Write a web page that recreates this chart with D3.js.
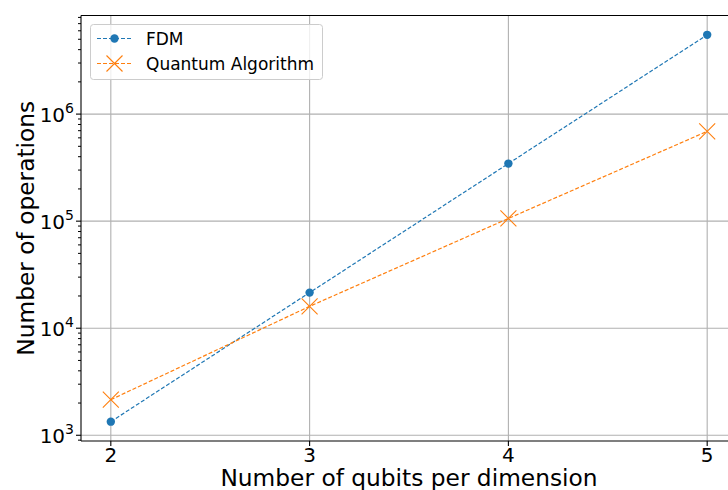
<!DOCTYPE html>
<html lang="en">
<head>
<meta charset="utf-8">
<title>Number of operations</title>
<script src="https://cdn.jsdelivr.net/npm/d3@7"></script>
<style>
  body { margin: 0; background: #fff; }
  svg { display: block; font-family: "DejaVu Sans", sans-serif; }
  .grid line { stroke: #b0b0b0; stroke-width: 1.1; }
  .tick-lab { font-size: 20px; fill: #000; }
</style>
</head>
<body>
<svg id="chart" width="728" height="490"></svg>
<script>
// data
var qubits = [2, 3, 4, 5];
var fdmOps = [1340, 21500, 345000, 5500000];
var quantumOps = [2150, 16000, 106000, 690000];
var xTicks = [2, 3, 4, 5];
var yTicks = [1e3, 1e4, 1e5, 1e6];
var seriesNames = ["FDM", "Quantum Algorithm"];
var seriesColors = ["#1f77b4", "#ff7f0e"];

var W = 728, H = 490;
var pLeft = 81, pRight = 737, pTop = 15.5, pBottom = 441;

var svg = d3.select("#chart");

// matplotlib style 5% margins
var xs = d3.extent(qubits), xpad = (xs[1] - xs[0]) * 0.05;
var x = d3.scaleLinear().domain([xs[0] - xpad, xs[1] + xpad]).range([pLeft, pRight]);

var allY = fdmOps.concat(quantumOps);
var lo = Math.log10(d3.min(allY)), hi = Math.log10(d3.max(allY));
var ypad = (hi - lo) * 0.05;
var y = d3.scaleLog().domain([Math.pow(10, lo - ypad), Math.pow(10, hi + ypad)]).range([pBottom, pTop]);

// grid
var grid = svg.append("g").attr("class", "grid");
grid.selectAll(".gx").data(xTicks).enter().append("line")
  .attr("x1", function(d) { return x(d); }).attr("x2", function(d) { return x(d); })
  .attr("y1", pTop).attr("y2", pBottom);
grid.selectAll(".gy").data(yTicks).enter().append("line")
  .attr("x1", pLeft).attr("x2", pRight)
  .attr("y1", function(d) { return y(d); }).attr("y2", function(d) { return y(d); });

// minor ticks on y
var minors = [];
for (var e = 2; e <= 6; e++) {
  for (var m = 2; m <= 9; m++) {
    var v = m * Math.pow(10, e);
    if (v >= y.domain()[0] && v <= y.domain()[1]) minors.push(v);
  }
}
svg.append("g").selectAll("line").data(minors).enter().append("line")
  .attr("x1", pLeft - 3).attr("x2", pLeft)
  .attr("y1", function(d) { return y(d); }).attr("y2", function(d) { return y(d); })
  .attr("stroke", "#000").attr("stroke-width", 1);

// major ticks
svg.append("g").selectAll("line").data(yTicks).enter().append("line")
  .attr("x1", pLeft - 5).attr("x2", pLeft)
  .attr("y1", function(d) { return y(d); }).attr("y2", function(d) { return y(d); })
  .attr("stroke", "#000").attr("stroke-width", 1.1);
svg.append("g").selectAll("line").data(xTicks).enter().append("line")
  .attr("x1", function(d) { return x(d); }).attr("x2", function(d) { return x(d); })
  .attr("y1", pBottom).attr("y2", pBottom + 5)
  .attr("stroke", "#000").attr("stroke-width", 1.1);

// tick labels
svg.append("g").selectAll("text").data(xTicks).enter().append("text")
  .attr("class", "tick-lab")
  .attr("x", function(d) { return x(d); }).attr("y", 462)
  .attr("text-anchor", "middle")
  .text(function(d) { return d; });

var yl = svg.append("g").selectAll("text").data(yTicks).enter().append("text")
  .attr("class", "tick-lab")
  .attr("x", 74).attr("y", function(d) { return y(d) + 7.5; })
  .attr("text-anchor", "end");
yl.append("tspan").text("10");
yl.append("tspan").attr("dy", -9).attr("font-size", 14)
  .text(function(d) { return Math.round(Math.log10(d)); });

// spines
svg.append("line").attr("x1", pLeft).attr("x2", pLeft).attr("y1", pTop).attr("y2", pBottom)
  .attr("stroke", "#000").attr("stroke-width", 1.1);
svg.append("line").attr("x1", pLeft).attr("x2", pRight).attr("y1", pBottom).attr("y2", pBottom)
  .attr("stroke", "#000").attr("stroke-width", 1.1);
svg.append("line").attr("x1", pLeft).attr("x2", pRight).attr("y1", pTop).attr("y2", pTop)
  .attr("stroke", "#000").attr("stroke-width", 1.1);

// series
var line = d3.line().x(function(d) { return x(d[0]); }).y(function(d) { return y(d[1]); });
var fdmPts = d3.zip(qubits, fdmOps);
var qPts = d3.zip(qubits, quantumOps);

function crossPath(cx, cy, r) {
  return "M" + (cx - r) + "," + (cy - r) + "L" + (cx + r) + "," + (cy + r) +
         "M" + (cx - r) + "," + (cy + r) + "L" + (cx + r) + "," + (cy - r);
}

svg.append("path").datum(fdmPts).attr("d", line)
  .attr("fill", "none").attr("stroke", seriesColors[0]).attr("stroke-width", 1.2)
  .attr("stroke-dasharray", "4,2");
svg.append("g").selectAll("circle").data(fdmPts).enter().append("circle")
  .attr("cx", function(d) { return x(d[0]); }).attr("cy", function(d) { return y(d[1]); })
  .attr("r", 4.2).attr("fill", seriesColors[0]);

svg.append("path").datum(qPts).attr("d", line)
  .attr("fill", "none").attr("stroke", seriesColors[1]).attr("stroke-width", 1.2)
  .attr("stroke-dasharray", "4,2");
svg.append("g").selectAll("path").data(qPts).enter().append("path")
  .attr("d", function(d) { return crossPath(x(d[0]), y(d[1]), 8); })
  .attr("stroke", seriesColors[1]).attr("stroke-width", 1.1).attr("fill", "none");

// axis labels
svg.append("text").attr("x", (pLeft + pRight) / 2).attr("y", 486)
  .attr("text-anchor", "middle").attr("font-size", 23.3)
  .text("Number of qubits per dimension");
svg.append("text").attr("transform", "translate(34," + ((pTop + pBottom) / 2) + ") rotate(-90)")
  .attr("text-anchor", "middle").attr("font-size", 23.3)
  .text("Number of operations");

// legend
var lg = svg.append("g");
lg.append("rect").attr("x", 90.5).attr("y", 24.5).attr("width", 232).attr("height", 55)
  .attr("rx", 3).attr("fill", "#fff").attr("fill-opacity", 0.8)
  .attr("stroke", "#cccccc").attr("stroke-width", 1);
seriesNames.forEach(function(name, i) {
  var cy = 38.5 + i * 25;
  lg.append("line").attr("x1", 97).attr("x2", 132).attr("y1", cy).attr("y2", cy)
    .attr("stroke", seriesColors[i]).attr("stroke-width", 1.2).attr("stroke-dasharray", "4,2");
  if (i === 0) {
    lg.append("circle").attr("cx", 114.5).attr("cy", cy).attr("r", 4.2).attr("fill", seriesColors[i]);
  } else {
    lg.append("path").attr("d", crossPath(114.5, cy, 8))
      .attr("stroke", seriesColors[i]).attr("stroke-width", 1.1).attr("fill", "none");
  }
  lg.append("text").attr("x", 146).attr("y", cy + 6).attr("font-size", 17).text(name);
});
</script>
</body>
</html>
